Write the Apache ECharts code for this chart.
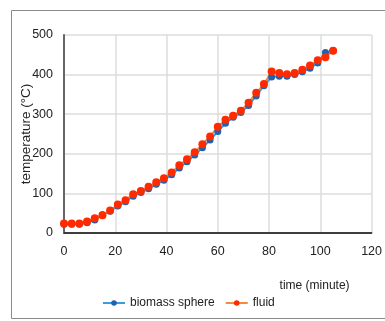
<!DOCTYPE html>
<html>
<head>
<meta charset="utf-8">
<script src="https://cdn.jsdelivr.net/npm/echarts@6/dist/echarts.min.js"></script>
<style>
html,body{margin:0;padding:0;background:#fff;}
#chart{width:385px;height:321px;}
</style>
</head>
<body>
<div id="chart"></div>
<script>
const times = [0,3,6,9,12,15,18,21,24,27,30,33,36,39,42,45,48,51,54,57,60,63,66,69,72,75,78,81,84,87,90,93,96,99,102,105];
const biomassSphere = [22,22,22,26,33,46,55,68,79,93,102,112,123,133,147,164,180,197,215,235,256,277,292,304,322,346,372,394,396,396,400,407,416,429,456,460];
const fluid = [24,24,24,29,37,45,57,72,83,98,106,117,128,138,153,171,186,204,224,244,268,286,296,309,329,354,376,408,404,401,404,412,423,436,444,460];
const seriesNames = ['biomass sphere','fluid'];
const xTitle = 'time (minute)';
const yTitle = 'temperature (°C)';

const font = "'Liberation Sans', Arial, sans-serif";
const chart = echarts.init(document.getElementById('chart'), null, {renderer:'canvas'});
const pairs = arr => times.map((t,i)=>[t, arr[i]]);
chart.setOption({
  animation:false,
  textStyle:{fontFamily:font},
  graphic:[{type:'rect', shape:{x:11.5,y:10.5,width:400,height:308}, style:{fill:'none', stroke:'#8a8a8a', lineWidth:1}, silent:true}],
  grid:{left:64, right:8, top:35, bottom:88},
  legend:{
    data:seriesNames, bottom:7, left:97, itemWidth:22, itemHeight:7, itemGap:10,
    textStyle:{fontFamily:font, fontSize:12, color:'#222'}
  },
  xAxis:[{
    type:'value', min:0, max:120, interval:20,
    name:xTitle, nameLocation:'end', nameGap:0, nameMoveOverlap:false,
    nameTextStyle:{fontFamily:font, fontSize:12, color:'#222', align:'right', verticalAlign:'top', padding:[47,22,0,0]},
    axisLine:{show:true, lineStyle:{color:'#bdbdbd', width:1.5}},
    axisTick:{show:false},
    axisLabel:{fontFamily:font, fontSize:12.5, color:'#222', margin:12},
    splitLine:{show:true, lineStyle:{color:'#dcdcdc', width:1.5}}
  },{
    type:'value', min:0, max:120, interval:20, position:'top',
    axisLine:{show:true, lineStyle:{color:'#111', width:1.5}},
    axisTick:{show:false}, axisLabel:{show:false}, splitLine:{show:false}
  }],
  yAxis:[{
    type:'value', min:0, max:500, interval:100,
    name:yTitle, nameLocation:'middle', nameGap:31, nameMoveOverlap:false,
    nameTextStyle:{fontFamily:font, fontSize:13.5, color:'#222'},
    axisLine:{show:true, lineStyle:{color:'#dcdcdc', width:1.5}},
    axisTick:{show:false},
    axisLabel:{fontFamily:font, fontSize:12.5, color:'#222', margin:11},
    splitLine:{show:true, lineStyle:{color:'#dcdcdc', width:1.5}}
  },{
    type:'value', min:0, max:500, interval:100, position:'right',
    axisLine:{show:true, lineStyle:{color:'#666', width:2}},
    axisTick:{show:false}, axisLabel:{show:false}, splitLine:{show:false}
  }],
  series:[{
    name:seriesNames[0], type:'line', data:pairs(biomassSphere),
    symbol:'circle', symbolSize:7,
    lineStyle:{color:'#3a9de0', width:2},
    itemStyle:{color:'#1f63b0'}
  },{
    name:seriesNames[1], type:'line', data:pairs(fluid),
    symbol:'circle', symbolSize:8,
    lineStyle:{color:'#f58a3c', width:2},
    itemStyle:{color:'#ff2a00'}
  }]
});
</script>
</body>
</html>
